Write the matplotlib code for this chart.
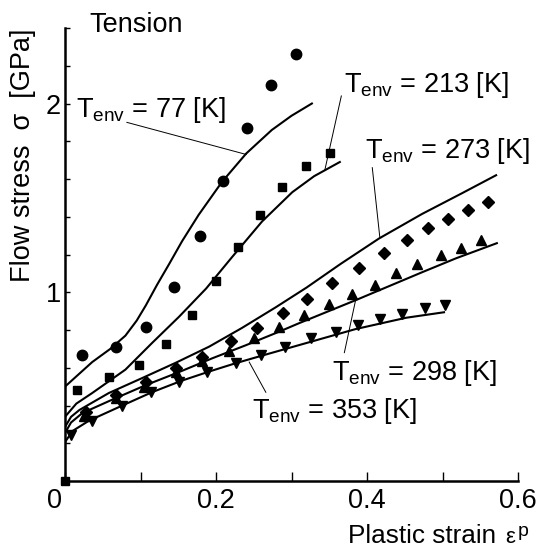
import matplotlib
matplotlib.use("Agg")
import matplotlib.pyplot as plt
import matplotlib.transforms as mtransforms

plt.rcParams['font.family'] = ['Liberation Sans', 'DejaVu Sans']
plt.rcParams['mathtext.fontset'] = 'custom'
plt.rcParams['mathtext.rm'] = 'Liberation Sans'
plt.rcParams['mathtext.it'] = 'Liberation Sans:italic'

# experimental points (plastic strain, flow stress GPa)
x_77 = [0.023, 0.067, 0.107, 0.144, 0.179, 0.209, 0.241, 0.273, 0.306]
y_77 = [0.667, 0.709, 0.815, 1.03, 1.30, 1.59, 1.87, 2.10, 2.26]

x_213 = [0.0, 0.016, 0.058, 0.098, 0.134, 0.168, 0.2, 0.229, 0.258, 0.287, 0.319, 0.351]
y_213 = [0.0, 0.48, 0.55, 0.614, 0.725, 0.88, 1.06, 1.24, 1.41, 1.555, 1.667, 1.74]

x_273 = [0.028, 0.067, 0.107, 0.147, 0.181, 0.22, 0.254, 0.289, 0.321, 0.354,
         0.389, 0.423, 0.453, 0.481, 0.507, 0.534, 0.56]
y_273 = [0.365, 0.455, 0.524, 0.598, 0.656, 0.74, 0.81, 0.889, 0.963, 1.048,
         1.13, 1.21, 1.275, 1.34, 1.386, 1.434, 1.476]

x_298 = [0.025, 0.067, 0.105, 0.147, 0.182, 0.217, 0.25, 0.283, 0.317, 0.35,
         0.38, 0.41, 0.438, 0.466, 0.498, 0.524, 0.551]
y_298 = [0.344, 0.44, 0.50, 0.577, 0.635, 0.69, 0.757, 0.815, 0.878, 0.937,
         0.99, 1.04, 1.10, 1.15, 1.20, 1.235, 1.275]

x_353 = [0.008, 0.036, 0.076, 0.114, 0.151, 0.188, 0.226, 0.26, 0.292, 0.326,
         0.359, 0.388, 0.417, 0.447, 0.477, 0.503]
y_353 = [0.243, 0.32, 0.40, 0.47, 0.524, 0.577, 0.624, 0.667, 0.71, 0.757,
         0.79, 0.825, 0.857, 0.884, 0.915, 0.93]

# model curves
cx_77 = [0.0, 0.018, 0.036, 0.06, 0.08, 0.095, 0.107, 0.122, 0.138, 0.155, 0.177,
         0.208, 0.24, 0.274, 0.30, 0.327]
cy_77 = [0.50, 0.565, 0.63, 0.70, 0.77, 0.85, 0.93, 1.04, 1.15, 1.27, 1.41,
         1.585, 1.735, 1.86, 1.935, 2.0]

cx_213 = [0.0, 0.015, 0.036, 0.08, 0.115, 0.151, 0.187, 0.221, 0.261, 0.301, 0.33, 0.364]
cy_213 = [0.34, 0.41, 0.466, 0.59, 0.73, 0.87, 1.02, 1.185, 1.375, 1.53, 1.615, 1.69]

cx_273 = [0.0, 0.008, 0.019, 0.058, 0.102, 0.147, 0.191, 0.234, 0.279, 0.32, 0.365,
          0.416, 0.473, 0.526, 0.571]
cy_273 = [0.286, 0.34, 0.376, 0.466, 0.545, 0.627, 0.712, 0.81, 0.92, 1.025, 1.15,
          1.285, 1.415, 1.525, 1.62]

cx_298 = [0.0, 0.008, 0.023, 0.062, 0.107, 0.151, 0.195, 0.24, 0.283, 0.31, 0.385,
          0.473, 0.518, 0.572]
cy_298 = [0.254, 0.31, 0.36, 0.43, 0.508, 0.577, 0.65, 0.72, 0.79, 0.836, 0.958,
          1.106, 1.18, 1.26]

cx_353 = [0.0, 0.01, 0.032, 0.076, 0.115, 0.155, 0.191, 0.226, 0.266, 0.31, 0.385,
          0.452, 0.502]
cy_353 = [0.206, 0.265, 0.32, 0.40, 0.47, 0.532, 0.58, 0.624, 0.67, 0.72, 0.805,
          0.865, 0.894]

labels = [r'T$_{\mathrm{env}}$ = 77 [K]', r'T$_{\mathrm{env}}$ = 213 [K]',
          r'T$_{\mathrm{env}}$ = 273 [K]', r'T$_{\mathrm{env}}$ = 298 [K]',
          r'T$_{\mathrm{env}}$ = 353 [K]']
label_pos = [(0.015, 1.926), (0.37, 2.06), (0.397, 1.71), (0.354, 0.534), (0.248, 0.333)]
leaders = [((0.082, 1.90), (0.24, 1.73)), ((0.366, 2.04), (0.344, 1.645)),
           ((0.407, 1.66), (0.417, 1.29)), ((0.37, 0.68), (0.385, 0.96)),
           ((0.244, 0.63), (0.266, 0.47))]

fig = plt.figure(figsize=(5.42, 5.54), dpi=100)
ax = fig.add_axes([65 / 542, 1 - 481 / 554, (518 - 65) / 542, (481 - 28) / 554])

lw = 1.5
for cx, cy in [(cx_77, cy_77), (cx_213, cy_213), (cx_273, cy_273), (cx_298, cy_298), (cx_353, cy_353)]:
    ax.plot(cx, cy, color='black', lw=lw, solid_joinstyle='round')

ax.plot(x_77, y_77, 'o', color='black', ms=7.5, clip_on=False)
ax.plot(x_213, y_213, 's', color='black', ms=6, clip_on=False)
ax.plot(x_273, y_273, 'D', color='black', ms=6, clip_on=False)
ax.plot(x_298, y_298, '^', color='black', ms=6.5, clip_on=False)
ax.plot(x_353, y_353, 'v', color='black', ms=6.5, clip_on=False)

for (p0, p1) in leaders:
    ax.plot([p0[0], p1[0]], [p0[1], p1[1]], color='black', lw=0.7)
for txt, (tx, ty) in zip(labels, label_pos):
    ax.text(tx, ty, txt, fontsize=19.5, ha='left', va='baseline')

ax.text(0.032, 2.38, 'Tension', fontsize=19.5, ha='left', va='baseline')

ax.set_xlim(0, 0.6)
ax.set_ylim(0, 2.4)
ax.spines['top'].set_visible(False)
ax.spines['right'].set_visible(False)
ax.spines['left'].set_linewidth(1.8)
ax.spines['bottom'].set_linewidth(1.8)

ax.set_xticks([0, 0.1, 0.2, 0.3, 0.4, 0.5, 0.6])
ax.set_xticklabels(['0', '', '0.2', '', '0.4', '', '0.6'])
ax.set_yticks([0.2, 0.4, 0.6, 0.8, 1.0, 1.2, 1.4, 1.6, 1.8, 2.0, 2.2, 2.4])
ax.set_yticklabels(['', '', '', '', '1', '', '', '', '', '2', '', ''])
ax.tick_params(axis='x', direction='in', length=6.5, width=1.0, labelsize=19.5, pad=5)
ax.tick_params(axis='y', direction='in', length=3.5, width=1.0, labelsize=19.5, pad=3)

# the "0" label sits a bit left of its tick
lab0 = ax.get_xticklabels()[0]
lab0.set_transform(lab0.get_transform() + mtransforms.ScaledTranslation(-10 / 100, 0, fig.dpi_scale_trans))

fig.text(23 / 542, 1 - 155 / 554, 'Flow stress  σ  [GPa]', fontsize=19.5, rotation=90,
         ha='center', va='center')
fig.text(348 / 542, 1 - 543 / 554, 'Plastic strain', fontsize=18.8, ha='left', va='baseline')
fig.text(505 / 542, 1 - 543 / 554, 'ε', fontsize=16, ha='left', va='baseline')
fig.text(518 / 542, 1 - 536 / 554, 'p', fontsize=14, ha='left', va='baseline')

fig.savefig('out.png', dpi=100)
